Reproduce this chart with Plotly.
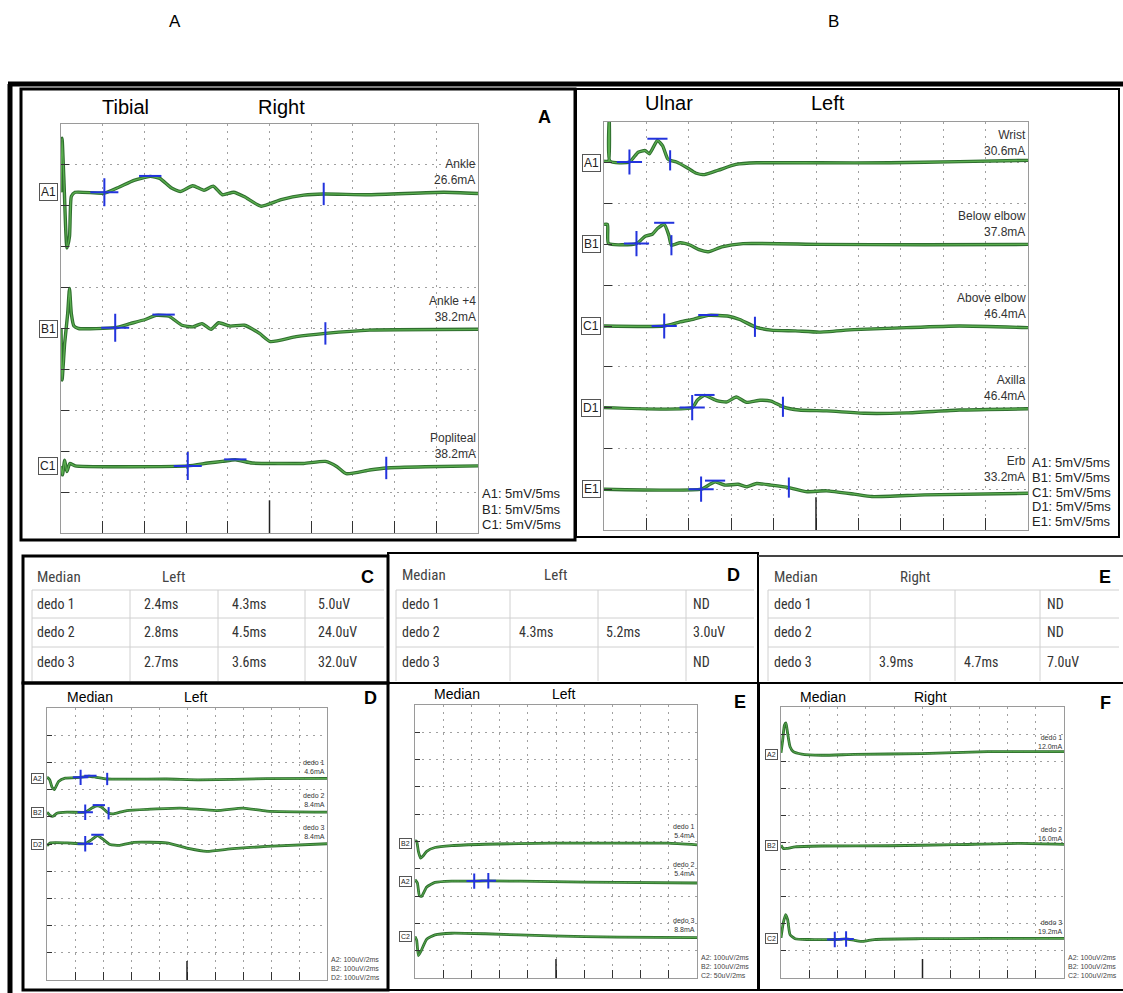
import plotly.graph_objects as go

W, H = 1123, 993
GREEN_DARK = "#2f6e2f"
GREEN = "#5aae4e"
BLUE = "#2233dd"
FONT = "Liberation Sans, Arial, sans-serif"
NARROW = "Liberation Sans Narrow, Arial Narrow, Roboto Condensed, Liberation Sans, sans-serif"

# ---------------- Panel A : Tibial Right (5 mV/div, 5 ms/div) ----------------
tib_A1_ms = [0.0, 0.13, 0.35, 0.71, 1.02, 1.24, 1.68, 5.2, 7.0, 8.75, 10.7, 11.85, 13.2, 14.3, 15.8,
             17.15, 18.25, 19.35, 20.7, 22.0, 24.0, 26.4, 29.1, 31.5, 37.0, 45.9, 50.0]
tib_A1_mv = [0.0, 6.6, 1.5, -6.8, -5.4, -0.5, 0.0, -0.1, 0.65, 1.45, 1.95, 1.7, 0.55, 0.1, 0.8,
             0.25, 0.75, -0.3, 0.0, -0.55, -1.7, -0.9, -0.35, -0.2, -0.3, 0.0, -0.15]
tib_A1_mark_ms = [5.2, 10.7, 31.5]
tib_A1_mark_mv = [0.0, 2.0, -0.2]

tib_B1_ms = [0.0, 0.13, 0.44, 0.8, 1.02, 1.24, 1.55, 2.1, 6.5, 8.3, 10.1, 11.4, 12.95, 14.5, 15.8,
             16.9, 18.0, 18.9, 20.25, 22.0, 23.8, 25.1, 28.2, 31.7, 37.0, 50.0]
tib_B1_mv = [0.0, -6.3, -1.8, 1.8, 4.9, 1.8, 0.3, 0.0, 0.1, 0.6, 1.1, 1.6, 1.5, 0.4, 0.2,
             0.6, -0.1, 0.7, 0.3, 0.4, -0.6, -1.6, -1.0, -0.6, -0.2, -0.1]
tib_B1_mark_ms = [6.5, 12.3, 31.7]
tib_B1_mark_mv = [0.1, 1.7, -0.6]

tib_C1_ms = [0.0, 0.18, 0.44, 0.7, 1.06, 1.7, 15.2, 17.6, 19.35, 20.9, 22.9, 26.0, 29.1, 31.7,
             33.1, 34.2, 37.0, 39.0, 43.7, 50.0]
tib_C1_mv = [0.0, -1.1, 0.7, -0.7, 0.3, 0.0, 0.0, 0.35, 0.55, 0.75, 0.35, 0.3, 0.3, 0.55,
             -0.1, -0.95, -0.5, -0.25, -0.1, 0.0]
tib_C1_mark_ms = [15.2, 20.9, 39.0]
tib_C1_mark_mv = [0.0, 0.8, -0.25]

tib_labels = ["A1", "B1", "C1"]
tib_sites = ["Ankle<br>26.6mA", "Ankle +4<br>38.2mA", "Popliteal<br>38.2mA"]
tib_baselines = [8.33, 5.0, 1.64]

# ---------------- Panel B : Ulnar Left (5 mV/div, 5 ms/div) ----------------
uln_A1_ms = [0.0, 0.53, 0.62, 0.7, 3.0, 4.03, 4.86, 5.35, 6.3, 6.9, 7.5, 7.8, 8.55, 9.8, 10.8,
             11.85, 13.5, 15.55, 18.0, 25.4, 33.7, 41.9, 50.0]
uln_A1_mv = [0.2, 0.2, 5.6, 0.2, 0.1, 1.3, 1.5, 1.1, 2.75, 2.1, 0.5, 0.3, 0.1, -0.6, -1.25,
             -1.45, -0.9, -0.2, 0.0, 0.0, 0.0, 0.15, 0.3]
uln_A1_mark_ms = [3.0, 6.3, 7.8]
uln_A1_mark_mv = [0.1, 2.95, 0.3]

uln_B1_ms = [0.0, 0.41, 0.53, 3.83, 4.86, 5.7, 6.3, 7.1, 7.65, 7.95, 8.97, 10.2, 11.2, 12.3,
             13.9, 16.4, 25.4, 37.8, 50.0]
uln_B1_mv = [2.45, 2.45, 0.1, 0.1, 1.0, 1.25, 1.95, 2.45, 1.1, -0.1, 0.2, -0.1, -0.65, -0.9,
             -0.3, 0.1, 0.0, -0.05, 0.0]
uln_B1_mark_ms = [3.83, 7.1, 7.95]
uln_B1_mark_mv = [0.1, 2.65, -0.1]

uln_C1_ms = [0.0, 7.1, 8.97, 10.6, 12.3, 14.7, 16.0, 17.8, 19.7, 22.55, 25.4, 29.5, 35.7, 41.9, 50.0]
uln_C1_mv = [0.0, 0.0, 0.5, 0.85, 1.3, 1.2, 0.8, -0.1, -0.5, -0.6, -0.75, -0.45, -0.2, 0.0, -0.2]
uln_C1_mark_ms = [7.1, 12.3, 17.8]
uln_C1_mark_mv = [0.0, 1.35, -0.1]

uln_D1_ms = [0.0, 10.4, 11.0, 11.85, 13.3, 14.5, 15.6, 16.8, 18.4, 19.7, 21.1, 23.0, 26.25, 30.8,
             35.7, 41.9, 50.0]
uln_D1_mv = [0.0, 0.0, 0.9, 1.5, 0.85, 0.7, 1.3, 0.65, 0.9, 0.8, 0.1, -0.3, -0.4, -0.7,
             -0.65, -0.3, -0.15]
uln_D1_mark_ms = [10.4, 11.85, 21.1]
uln_D1_mark_mv = [0.0, 1.55, 0.1]

uln_E1_ms = [0.0, 11.45, 12.5, 13.1, 14.3, 15.8, 16.8, 18.0, 19.7, 21.8, 23.8, 26.25, 29.5, 31.6,
             37.8, 50.0]
uln_E1_mv = [0.0, 0.0, 0.6, 0.9, 0.5, 0.6, 0.3, 0.7, 0.5, 0.2, -0.3, -0.2, -0.6, -0.9, -0.7, -0.5]
uln_E1_mark_ms = [11.45, 13.1, 21.8]
uln_E1_mark_mv = [0.0, 1.05, 0.2]

uln_labels = ["A1", "B1", "C1", "D1", "E1"]
uln_sites = ["Wrist<br>30.6mA", "Below elbow<br>37.8mA", "Above elbow<br>46.4mA",
             "Axilla<br>46.4mA", "Erb<br>33.2mA"]
uln_baselines = [9, 7, 5, 3, 1]

# ---------------- Panel D (bottom) : Median Left (100 uV/div, 2 ms/div) ----------------
mdl_A2_ms = [0.0, 0.19, 0.36, 0.52, 0.83, 1.3, 2.4, 3.0, 3.45, 4.3, 8.55, 10.9, 15.7, 20.0]
mdl_A2_uv = [6, -4, -31, -40, -10, 2, 5, 9, 6, -1, -1, -4, 0, 1]
mdl_A2_mark_ms = [2.4, 3.1, 4.3]
mdl_A2_mark_uv = [5, 11, -1]

mdl_B2_ms = [0.0, 0.24, 0.43, 0.71, 1.43, 2.73, 3.2, 3.56, 3.9, 4.4, 4.75, 5.7, 7.4, 9.5, 12.1,
             14.0, 15.7, 20.0]
mdl_B2_uv = [0, -13, -15, -4, 0, 0, 15, 23, 18, -4, -6, 6, 11, 15, 6, 15, 4, 0]
mdl_B2_mark_ms = [2.73, 3.7, 4.4]
mdl_B2_mark_uv = [0, 26, -4]

mdl_D2_ms = [0.0, 0.24, 1.43, 2.73, 3.2, 3.6, 4.04, 4.5, 5.2, 6.2, 8.55, 10.0, 11.4, 13.3, 15.7, 20.0]
mdl_D2_uv = [-6, 4, 4, 1, 16, 31, 16, -2, -5, 6, 4, -15, -27, -17, -9, 1]
mdl_D2_mark_ms = [2.73, 3.6]
mdl_D2_mark_uv = [1, 34]

mdl_labels = ["A2", "B2", "D2"]
mdl_sites = ["dedo 1<br>4.6mA", "dedo 2<br>8.4mA", "dedo 3<br>8.4mA"]
mdl_baselines = [7.4, 6.17, 5.0]
mdl_scales = [100, 100, 100]
mdl_sens = ["A2: 100uV/2ms", "B2: 100uV/2ms", "D2: 100uV/2ms"]

# ---------------- Panel E (bottom) : Median Left ----------------
mel_B2_ms = [0.0, 0.12, 0.24, 0.4, 0.59, 0.83, 1.42, 2.6, 4.96, 9.7, 14.4, 17.9, 20.0]
mel_B2_uv = [10, 6, -30, -55, -46, -30, -16, -9, -4, 0, 0, 0, -6]

mel_A2_ms = [0.0, 0.17, 0.31, 0.47, 0.83, 1.42, 2.6, 4.2, 5.2, 9.7, 14.4, 20.0]
mel_A2_uv = [6, -6, -52, -55, -21, -4, 1, 1, 2, -1, -4, -6]
mel_A2_mark_ms = [4.2, 5.2]
mel_A2_mark_uv = [1, 2]

mel_C2_ms = [0.0, 0.12, 0.24, 0.42, 0.83, 1.42, 2.6, 4.96, 9.7, 14.4, 20.0]
mel_C2_uv = [0, -7, -35, -27, -5, 3, 6, 5, 1, -1, -2]

mel_labels = ["B2", "A2", "C2"]
mel_sites = ["dedo 1<br>5.4mA", "dedo 2<br>5.4mA", "dedo 3<br>8.8mA"]
mel_baselines = [4.94, 3.54, 1.52]
mel_scales = [100, 100, 50]
mel_sens = ["A2: 100uV/2ms", "B2: 100uV/2ms", "C2: 50uV/2ms"]

# ---------------- Panel F (bottom) : Median Right ----------------
mri_A2_ms = [0.0, 0.12, 0.24, 0.35, 0.47, 0.64, 0.87, 1.46, 2.87, 5.2, 9.9, 14.6, 20.0]
mri_A2_uv = [5, 52, 107, 115, 76, 27, 9, 0, -4, -1, 2, 9, 9]

mri_B2_ms = [0.0, 0.16, 0.4, 1.0, 2.87, 7.6, 12.3, 17.0, 20.0]
mri_B2_uv = [2, -10, -10, -4, -1, 0, 4, 9, 5]

mri_C2_ms = [0.0, 0.16, 0.33, 0.47, 0.64, 1.0, 1.93, 3.8, 4.6, 5.2, 5.8, 6.6, 9.9, 14.6, 20.0]
mri_C2_uv = [4, 59, 90, 71, 16, 1, -2, -2, 0, -5, -9, -2, 1, 2, 2]
mri_C2_mark_ms = [3.8, 4.6]
mri_C2_mark_uv = [-2, 0]

mri_labels = ["A2", "B2", "C2"]
mri_sites = ["dedo 1<br>12.0mA", "dedo 2<br>16.0mA", "dedo 3<br>19.2mA"]
mri_baselines = [8.26, 4.88, 1.44]
mri_scales = [100, 100, 100]
mri_sens = ["A2: 100uV/2ms", "B2: 100uV/2ms", "C2: 100uV/2ms"]

# ---------------- Tables ----------------
tab_C_head = ["Median", "Left", "C"]
tab_C_rows = [["dedo 1", "2.4ms", "4.3ms", "5.0uV"],
              ["dedo 2", "2.8ms", "4.5ms", "24.0uV"],
              ["dedo 3", "2.7ms", "3.6ms", "32.0uV"]]
tab_D_head = ["Median", "Left", "D"]
tab_D_rows = [["dedo 1", "", "", "ND"],
              ["dedo 2", "4.3ms", "5.2ms", "3.0uV"],
              ["dedo 3", "", "", "ND"]]
tab_E_head = ["Median", "Right", "E"]
tab_E_rows = [["dedo 1", "", "", "ND"],
              ["dedo 2", "", "", "ND"],
              ["dedo 3", "3.9ms", "4.7ms", "7.0uV"]]


def P(x):
    return x / W


def Q(y):
    return 1 - y / H


fig = go.Figure()
shapes = []
annotations = []
layout_axes = {}


def line(x0, y0, x1, y1, w=1, color="black"):
    shapes.append(dict(type="line", xref="paper", yref="paper", x0=P(x0), y0=Q(y0),
                       x1=P(x1), y1=Q(y1), line=dict(color=color, width=w)))


def rect(x0, y0, x1, y1, w=1, color="black"):
    shapes.append(dict(type="rect", xref="paper", yref="paper", x0=P(x0), y0=Q(y0),
                       x1=P(x1), y1=Q(y1), line=dict(color=color, width=w)))


def text(x, y, s, size=12, anchor="center", bold=False, color="black", font=FONT, yanchor="middle"):
    annotations.append(dict(xref="paper", yref="paper", x=P(x), y=Q(y), text=("<b>%s</b>" % s) if bold else s,
                            showarrow=False, xanchor=anchor, yanchor=yanchor,
                            font=dict(size=size, color=color, family=font)))


def setup_axes(i, px0, px1, py0, py1, xmax, dx, tlen, midlen):
    xs = "xaxis" if i == 1 else "xaxis%d" % i
    ys = "yaxis" if i == 1 else "yaxis%d" % i
    xa = "x" if i == 1 else "x%d" % i
    ya = "y" if i == 1 else "y%d" % i
    common = dict(showgrid=True, gridcolor="#a0a0a0", gridwidth=1, griddash="2px,5px",
                  showline=True, mirror=True, linecolor="#9a9a9a", linewidth=1,
                  ticks="inside", tickcolor="#333", tickwidth=1,
                  showticklabels=False, zeroline=False, fixedrange=True)
    layout_axes[xs] = dict(domain=[P(px0), P(px1)], range=[0, xmax], tick0=0, dtick=dx,
                           anchor=ya, ticklen=tlen, **common)
    layout_axes[ys] = dict(domain=[Q(py1), Q(py0)], range=[0, 10], tick0=0, dtick=1,
                           anchor=xa, ticklen=max(5, tlen - 4), **common)
    shapes.append(dict(type="line", xref=xa, yref=ya + " domain", x0=xmax / 2, x1=xmax / 2,
                       y0=0, y1=midlen, line=dict(color="#222", width=1.5)))
    return xa, ya


def add_trace(xa, ya, t, v, base, scale, width=2):
    yy = [base + a / scale for a in v]
    for col, w in ((GREEN_DARK, width + 1.2), (GREEN, width * 0.6)):
        fig.add_trace(go.Scatter(x=t, y=yy, xaxis=xa, yaxis=ya, mode="lines",
                                 line=dict(color=col, width=w, shape="spline", smoothing=0.5),
                                 hoverinfo="skip", showlegend=False))


def add_marks(xa, ya, t, v, base, scale, kinds, size):
    sym = {"cross": "cross-thin", "ew": "line-ew", "ns": "line-ns"}
    for tt, vv, k in zip(t, v, kinds):
        s = size if k == "cross" else size * 0.8
        fig.add_trace(go.Scatter(x=[tt], y=[base + vv / scale], xaxis=xa, yaxis=ya, mode="markers",
                                 marker=dict(symbol=sym[k], size=s, color=BLUE,
                                             line=dict(color=BLUE, width=2)),
                                 hoverinfo="skip", showlegend=False))


def label_box(xa, ya, y, s, size):
    annotations.append(dict(xref=xa + " domain", yref=ya, x=0, y=y, xshift=-3, text=s, showarrow=False,
                            xanchor="right", yanchor="middle", bordercolor="#555", borderwidth=1,
                            borderpad=1, bgcolor="white", font=dict(size=size, color="#222", family=FONT)))


def site_label(xa, ya, y, s, size, shift):
    annotations.append(dict(xref=xa + " domain", yref=ya, x=1, y=y, yshift=shift, text=s, showarrow=False,
                            xanchor="right", yanchor="bottom", align="right",
                            font=dict(size=size, color="#333", family=FONT)))


def sens_lines(x, y_first, step, labels, suffix, size, color="#222"):
    for k, s in enumerate(labels):
        text(x, y_first + k * step, s + suffix if suffix else s, size, anchor="left", color=color)


# ---------- Panel A ----------
xa, ya = setup_axes(1, 61, 478, 124, 533, 50, 5, 12, 0.08)
tib_t = [tib_A1_ms, tib_B1_ms, tib_C1_ms]
tib_v = [tib_A1_mv, tib_B1_mv, tib_C1_mv]
tib_mt = [tib_A1_mark_ms, tib_B1_mark_ms, tib_C1_mark_ms]
tib_mv = [tib_A1_mark_mv, tib_B1_mark_mv, tib_C1_mark_mv]
for i in range(3):
    add_trace(xa, ya, tib_t[i], tib_v[i], tib_baselines[i], 5.0, 2.2)
    add_marks(xa, ya, tib_mt[i], tib_mv[i], tib_baselines[i], 5.0, ["cross", "ew", "ns"], 20)
    label_box(xa, ya, tib_baselines[i], tib_labels[i], 12)
    site_label(xa, ya, tib_baselines[i], tib_sites[i], 12, 3)
text(126, 107, "Tibial", 20)
text(281, 107, "Right", 20)
text(544, 117, "A", 18, bold=True)
sens_lines(480, 494, 15, tib_labels, ": 5mV/5ms", 13)

# ---------- Panel B ----------
xa, ya = setup_axes(2, 604, 1028, 122, 530, 50, 5, 12, 0.08)
uln_t = [uln_A1_ms, uln_B1_ms, uln_C1_ms, uln_D1_ms, uln_E1_ms]
uln_v = [uln_A1_mv, uln_B1_mv, uln_C1_mv, uln_D1_mv, uln_E1_mv]
uln_mt = [uln_A1_mark_ms, uln_B1_mark_ms, uln_C1_mark_ms, uln_D1_mark_ms, uln_E1_mark_ms]
uln_mv = [uln_A1_mark_mv, uln_B1_mark_mv, uln_C1_mark_mv, uln_D1_mark_mv, uln_E1_mark_mv]
for i in range(5):
    add_trace(xa, ya, uln_t[i], uln_v[i], uln_baselines[i], 5.0, 2.2)
    add_marks(xa, ya, uln_mt[i], uln_mv[i], uln_baselines[i], 5.0, ["cross", "ew", "ns"], 18)
    label_box(xa, ya, uln_baselines[i], uln_labels[i], 12)
    site_label(xa, ya, uln_baselines[i], uln_sites[i], 12, 3)
text(669, 103, "Ulnar", 20)
text(828, 103, "Left", 20)
sens_lines(1030, 463, 14.5, uln_labels, ": 5mV/5ms", 13)

# ---------- Bottom panels ----------
bottom = [
    (3, (47, 327, 708, 980), [mdl_A2_ms, mdl_B2_ms, mdl_D2_ms], [mdl_A2_uv, mdl_B2_uv, mdl_D2_uv],
     mdl_baselines, mdl_scales, mdl_labels, mdl_sites, mdl_sens,
     [(mdl_A2_mark_ms, mdl_A2_mark_uv, ["cross", "ew", "ns"]),
      (mdl_B2_mark_ms, mdl_B2_mark_uv, ["cross", "ew", "ns"]),
      (mdl_D2_mark_ms, mdl_D2_mark_uv, ["cross", "ew"])]),
    (4, (415, 697, 705, 978), [mel_B2_ms, mel_A2_ms, mel_C2_ms], [mel_B2_uv, mel_A2_uv, mel_C2_uv],
     mel_baselines, mel_scales, mel_labels, mel_sites, mel_sens,
     [None, (mel_A2_mark_ms, mel_A2_mark_uv, ["cross", "cross"]), None]),
    (5, (781, 1064, 707, 978), [mri_A2_ms, mri_B2_ms, mri_C2_ms], [mri_A2_uv, mri_B2_uv, mri_C2_uv],
     mri_baselines, mri_scales, mri_labels, mri_sites, mri_sens,
     [None, None, (mri_C2_mark_ms, mri_C2_mark_uv, ["cross", "cross"])]),
]
for idx, (x0, x1, y0, y1), ts, vs, bases, scales, labs, sites, sens, marks in bottom:
    xa, ya = setup_axes(idx, x0, x1, y0, y1, 20, 2, 8, 0.07)
    for i in range(3):
        add_trace(xa, ya, ts[i], vs[i], bases[i], scales[i], 1.6)
        if marks[i] is not None:
            add_marks(xa, ya, marks[i][0], marks[i][1], bases[i], scales[i], marks[i][2], 11)
        label_box(xa, ya, bases[i], labs[i], 7)
        site_label(xa, ya, bases[i], sites[i], 7, 2)
    sens_lines(x1 + 2, y1 - 21, 9, sens, "", 7, "#444")

text(90, 697, "Median", 14)
text(195, 697, "Left", 14)
text(370, 698, "D", 18, bold=True)
text(457, 694, "Median", 14)
text(563, 694, "Left", 14)
text(740, 702, "E", 18, bold=True)
text(823, 697, "Median", 14)
text(930, 697, "Right", 14)
text(1105, 703, "F", 18, bold=True)

# ---------- Tables ----------
tables = [
    (tab_C_head, tab_C_rows, (22, 388), 577, [35, 142, 230, 316], [32, 130, 218, 305], 160, 368),
    (tab_D_head, tab_D_rows, (388, 758), 575, [400, 517, 604, 691], [396, 510, 598, 686], 542, 733),
    (tab_E_head, tab_E_rows, (758, 1123), 577, [772, 877, 962, 1045], [768, 870, 955, 1040], 898, 1105),
]
row_y = [604, 632, 662]
row_sep = [590, 618, 647]
for head, rows, (tx0, tx1), hy, colx, seps, hx2, lx in tables:
    for ys in row_sep:
        line(seps[0], ys, tx1 - 4, ys, 1, "#d0d0d0")
    for xs in seps:
        line(xs, row_sep[0], xs, 681, 1, "#d0d0d0")
    text(colx[0], hy, head[0], 15, anchor="left", font=NARROW, color="#444")
    text(hx2, hy, head[1], 15, anchor="left", font=NARROW, color="#444")
    text(lx, hy, head[2], 18, bold=True)
    for r, yy in zip(rows, row_y):
        for c, xx in zip(r, colx):
            if c:
                text(xx, yy, c, 14, anchor="left", font=NARROW, color="#333")

# ---------- Frames ----------
line(8, 84, 1123, 84, 5)
line(10, 84, 10, 993, 5)
rect(21, 89, 575, 540, 3)
rect(576, 89, 1119, 537, 2)
rect(23, 556, 388, 683, 3)
rect(388, 553, 758, 683, 2)
line(758, 556, 1123, 556, 2, "#444")
line(758, 683, 1123, 683, 2)
rect(23, 683, 388, 990, 3)
rect(388, 683, 758, 990, 2)
line(759, 683, 759, 990, 2)
line(759, 990, 1123, 990, 2)

text(175, 22, "A", 17)
text(833, 22, "B", 17)

fig.update_layout(width=W, height=H, margin=dict(l=0, r=0, t=0, b=0),
                  paper_bgcolor="white", plot_bgcolor="white",
                  shapes=shapes, annotations=annotations, showlegend=False, **layout_axes)
fig.write_html("out.html", config={"displayModeBar": False},
               post_script="document.body.style.margin='0px';document.body.style.overflow='hidden';")
